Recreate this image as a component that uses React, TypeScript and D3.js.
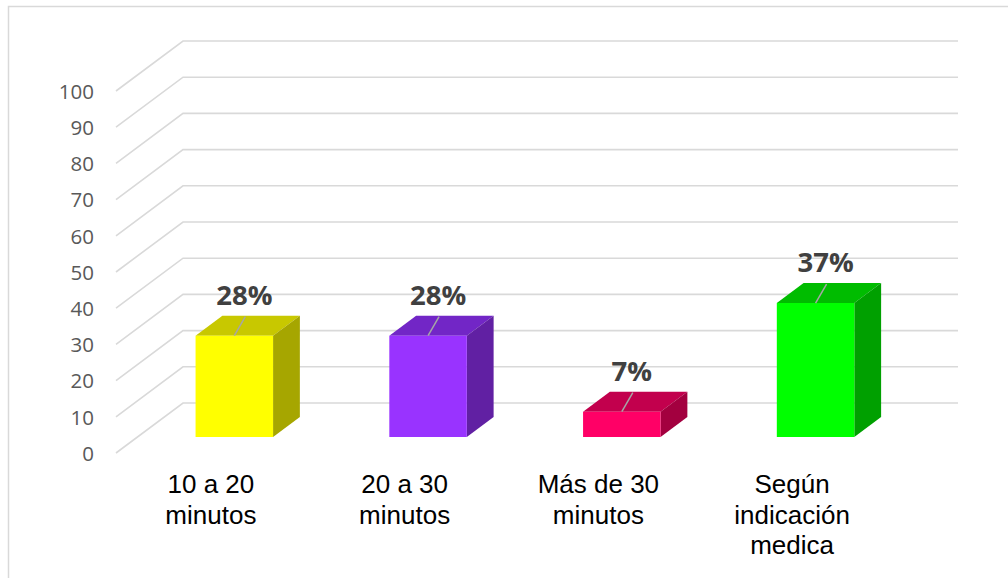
import React from "react";
import * as d3 from "d3";

const categories: string[][] = [
  ["10 a 20", "minutos"],
  ["20 a 30", "minutos"],
  ["Más de 30", "minutos"],
  ["Según", "indicación", "medica"],
];
const values: number[] = [28, 28, 7, 37];
const valueLabels: string[] = ["28%", "28%", "7%", "37%"];
const yTicks: number[] = [0, 10, 20, 30, 40, 50, 60, 70, 80, 90, 100];
const frontColors: string[] = ["#FFFF00", "#9933FF", "#FF0066", "#00FF00"];
const topColors: string[] = ["#C8C800", "#7226C6", "#C2004D", "#00BC00"];
const sideColors: string[] = ["#A6A600", "#6120A3", "#A3003F", "#00A000"];

const W = 1008;
const H = 578;
const DX = -67; // depth shift (back -> front)
const DY = 50;
const Z_FRONT = 0.68;
const Z_BACK = 0.28;

export default function App() {
  const keys = categories.map((c) => c.join(" "));
  const x = d3.scaleBand<string>().domain(keys).range([183, 958]).padding(0);
  const y = d3.scaleLinear().domain([0, 100]).range([403, 41]);
  const barFrac = 0.4;
  const proj = (px: number, v: number, z: number): [number, number] => [
    px + DX * z,
    y(v) + DY * z,
  ];
  const pts = (arr: [number, number][]) => arr.map((p) => p.join(",")).join(" ");

  return (
    <svg
      width={W}
      height={H}
      style={{ position: "absolute", left: 0, top: 0, background: "#fff" }}
    >
      <rect x={8.5} y={6.5} width={1100} height={700} fill="#fff" stroke="#d9d9d9" strokeWidth={1.5} />
      {/* gridlines */}
      {yTicks.map((t) => {
        const [fx, fy] = proj(183, t, 1);
        const [bx, by] = proj(183, t, 0);
        return (
          <g key={t}>
            <polyline
              points={pts([[fx, fy], [bx, by], [958, by]])}
              fill="none"
              stroke="#d9d9d9"
              strokeWidth={1.6}
            />
            <text
              x={94}
              y={fy}
              dy="0.38em"
              textAnchor="end"
              fontFamily="'Open Sans', sans-serif"
              fontSize={20.5}
              fill="#595959"
            >
              {t}
            </text>
          </g>
        );
      })}
      {/* bars */}
      {values.map((v, i) => {
        const k = keys[i];
        const c = (x(k) as number) + x.bandwidth() / 2;
        const hw = (x.bandwidth() * barFrac) / 2;
        const l = c - hw;
        const r = c + hw;
        const fTL = proj(l, v, Z_FRONT);
        const fTR = proj(r, v, Z_FRONT);
        const fBR = proj(r, 0, Z_FRONT);
        const fBL = proj(l, 0, Z_FRONT);
        const bTL = proj(l, v, Z_BACK);
        const bTR = proj(r, v, Z_BACK);
        const bBR = proj(r, 0, Z_BACK);
        const [fcx, fcy] = proj(c, v, Z_FRONT);
        const lx = fcx + 10;
        const ly = fcy - 31;
        return (
          <g key={k}>
            <polygon points={pts([fTL, fTR, bTR, bTL])} fill={topColors[i]} />
            <polygon points={pts([fTR, bTR, bBR, fBR])} fill={sideColors[i]} />
            <polygon points={pts([fTL, fTR, fBR, fBL])} fill={frontColors[i]} />
            <line x1={fcx} y1={fcy} x2={lx + 1} y2={ly + 12} stroke="#A6A6A6" strokeWidth={1.5} />
            <text
              x={lx}
              y={ly}
              textAnchor="middle"
              fontFamily="'Open Sans', sans-serif"
              fontWeight="bold"
              fontSize={27.5}
              fill="#404040"
            >
              {valueLabels[i]}
            </text>
          </g>
        );
      })}
      {/* category labels */}
      {categories.map((lines, i) => {
        const c = (x(keys[i]) as number) + x.bandwidth() / 2 + DX - 2;
        return (
          <text
            key={keys[i]}
            x={c}
            y={493}
            textAnchor="middle"
            fontFamily="'Liberation Sans', Arial, sans-serif"
            fontSize={26}
            fill="#000"
          >
            {lines.map((ln, j) => (
              <tspan key={j} x={c} dy={j === 0 ? 0 : 30.5}>
                {ln}
              </tspan>
            ))}
          </text>
        );
      })}
    </svg>
  );
}
